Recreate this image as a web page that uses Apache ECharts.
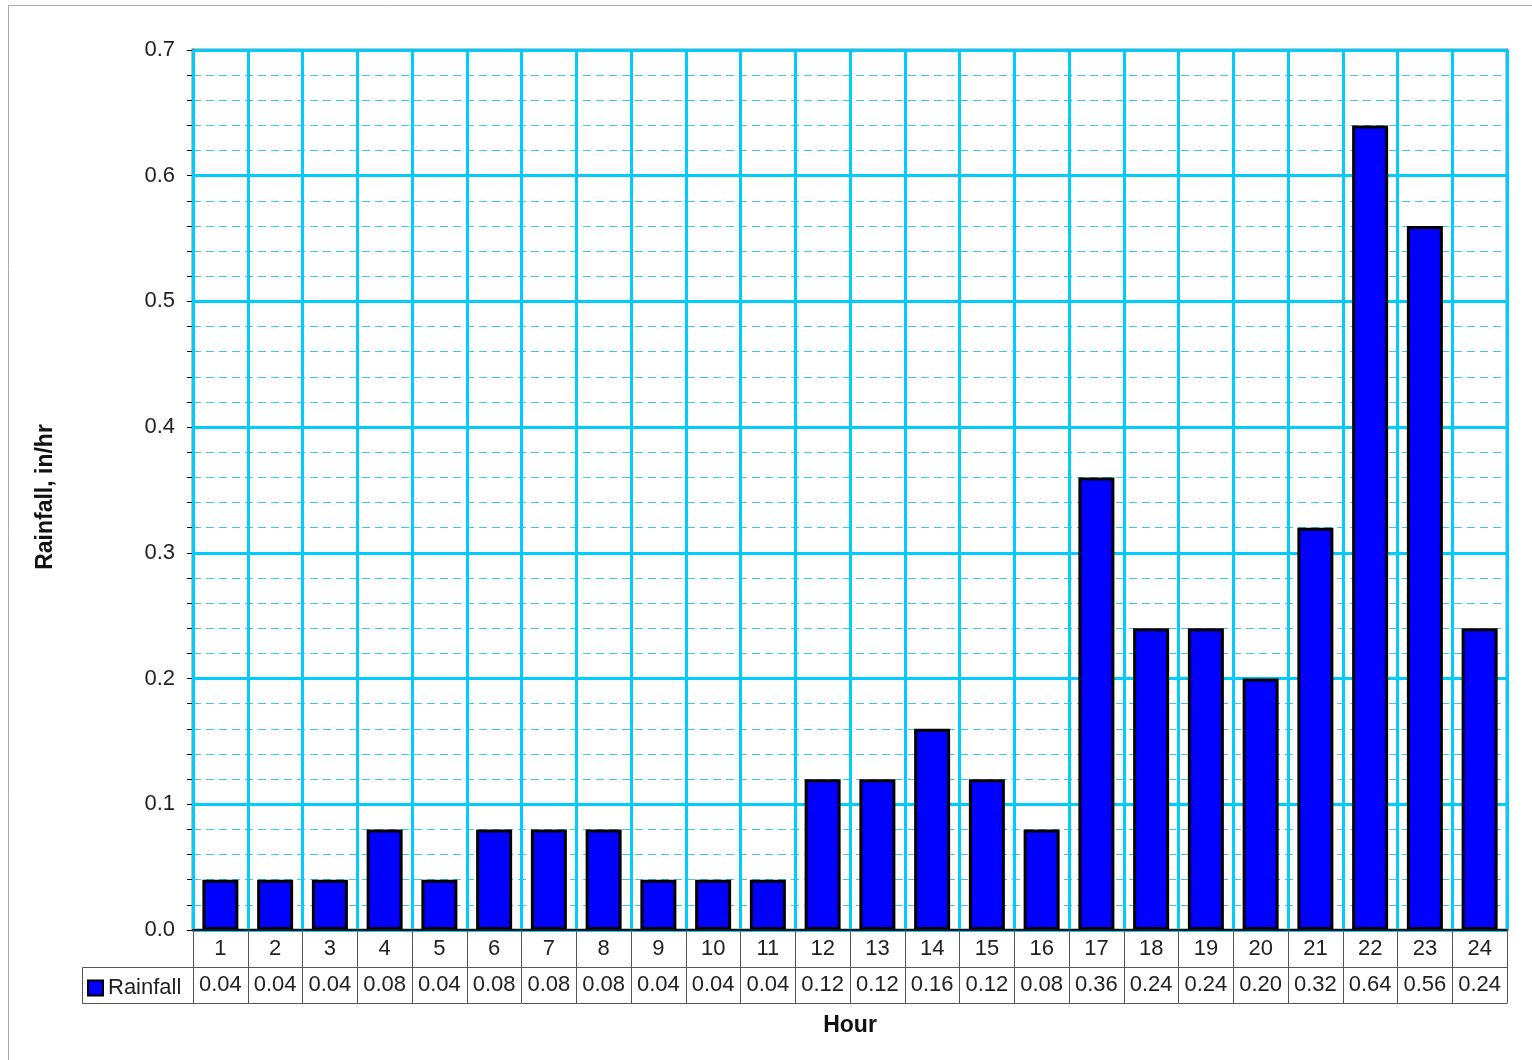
<!DOCTYPE html>
<html>
<head>
<meta charset="utf-8">
<script src="https://cdn.jsdelivr.net/npm/echarts@6/dist/echarts.min.js"></script>
<style>
html,body{margin:0;padding:0;background:#fff;}
#chart{width:1532px;height:1060px;}
</style>
</head>
<body>
<div id="chart"></div>
<script>
var hours = ['1','2','3','4','5','6','7','8','9','10','11','12','13','14','15','16','17','18','19','20','21','22','23','24'];
var rainfall = [0.04,0.04,0.04,0.08,0.04,0.08,0.08,0.08,0.04,0.04,0.04,0.12,0.12,0.16,0.12,0.08,0.36,0.24,0.24,0.20,0.32,0.64,0.56,0.24];
var seriesName = 'Rainfall';
var xTitle = 'Hour';
var yTitle = 'Rainfall, in/hr';

var FONT = '"Liberation Sans", Arial, sans-serif';
var chart = echarts.init(document.getElementById('chart'));
chart.setOption({
  animation: false,
  backgroundColor: '#fff',
  grid: {left: 193, right: 25, top: 50, bottom: 130, show: true, borderColor: '#888', borderWidth: 3, backgroundColor: 'transparent'},
  legend: {
    left: 87, top: 977, padding: 0, itemWidth: 15, itemHeight: 15, itemGap: 4,
    data: [seriesName],
    textStyle: {fontFamily: FONT, fontSize: 22, color: '#222'},
    icon: 'rect'
  },
  graphic: [
    {type: 'rect', shape: {x: 8.5, y: 5.5, width: 1600, height: 1200}, style: {fill: 'none', stroke: '#aaa', lineWidth: 1}, z: -10},
    {type: 'rect', shape: {x: 82.5, y: 967.5, width: 111, height: 36}, style: {fill: 'none', stroke: '#555', lineWidth: 1}}
  ],
  xAxis: [
    {
      type: 'category', data: hours, position: 'bottom', boundaryGap: true,
      axisLine: {show: true, lineStyle: {color: '#111', width: 2}},
      axisTick: {show: true, interval: 0, length: 73, lineStyle: {color: '#555', width: 1}},
      axisLabel: {interval: 0, margin: 8, fontFamily: FONT, fontSize: 22, color: '#222'},
      splitLine: {show: true, interval: 0, lineStyle: {color: '#00ccff', width: 3}},
      z: 5
    },
    {
      type: 'category', data: hours, position: 'bottom', offset: 37,
      axisLine: {show: true, lineStyle: {color: '#555', width: 1}},
      axisTick: {show: false},
      axisLabel: {interval: 0, margin: 7, fontFamily: FONT, fontSize: 22, color: '#222',
        formatter: function (v, i) { return rainfall[i].toFixed(2); }},
      splitLine: {show: false}
    },
    {
      type: 'category', data: hours, position: 'bottom', offset: 73,
      axisLine: {show: true, lineStyle: {color: '#555', width: 1}},
      axisTick: {show: false},
      axisLabel: {show: false},
      splitLine: {show: false},
      name: xTitle, nameLocation: 'middle', nameGap: 11,
      nameTextStyle: {fontFamily: FONT, fontSize: 23, fontWeight: 'bold', color: '#111', verticalAlign: 'top'}
    }
  ],
  yAxis: {
    type: 'value', min: 0, max: 0.7, interval: 0.1,
    name: yTitle, nameLocation: 'middle', nameGap: 136,
    nameTextStyle: {fontFamily: FONT, fontSize: 23, fontWeight: 'bold', color: '#111', padding: [0, 14, 0, 0]},
    axisLine: {show: true, lineStyle: {color: '#777', width: 3}},
    axisTick: {show: true, length: 6, lineStyle: {color: '#111', width: 1}},
    minorTick: {show: true, splitNumber: 5, length: 6, lineStyle: {color: '#111', width: 1}},
    axisLabel: {margin: 18, fontFamily: FONT, fontSize: 22, color: '#222',
      formatter: function (v) { return v.toFixed(1); }},
    splitLine: {show: true, lineStyle: {color: '#00ccff', width: 3}},
    minorSplitLine: {show: true, lineStyle: {color: '#3cc8ee', width: 1, type: [8, 5]}}
  },
  series: [{
    name: seriesName, type: 'bar', data: rainfall, barWidth: 36, xAxisIndex: 0,
    itemStyle: {color: '#0000ff', borderColor: '#000', borderWidth: 3},
    z: 3
  }]
});
</script>
</body>
</html>
